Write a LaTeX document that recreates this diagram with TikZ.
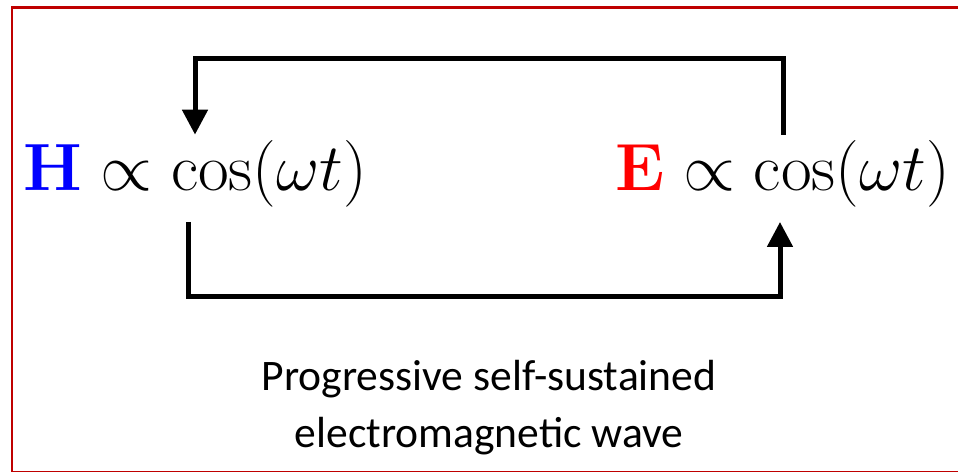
\RequirePackage{fix-cm}
\documentclass[tikz,border=0pt]{standalone}
\usepackage{amsmath}
\usepackage[no-math]{fontspec}
\newfontfamily\notefont{Carlito}
\usetikzlibrary{arrows.meta,positioning,calc}

\begin{document}
\begin{tikzpicture}[x=0.02cm, y=0.02cm,
    eq/.style={inner xsep=0pt, inner ysep=0.14cm, font=\fontsize{38}{42}\selectfont},
    note/.style={align=center, inner sep=0pt, font=\notefont\fontsize{24.8}{32.5}\selectfont},
    arr/.style={-{Triangle[width=0.5cm, length=0.5cm]}, line width=0.1cm},
    frame/.style={draw=red!75!black, line width=0.06cm}
]
\useasboundingbox (0,0) rectangle (958,472);
\clip (0,0) rectangle (958,472);
\draw[frame] (12,-0.8) rectangle (990,464.5);

\node[eq, anchor=base west] (Hf) at (23,281) {$\textcolor{blue}{\mathbf{H}}\propto\cos(\omega t)$};
\node[eq, anchor=base east] (Ef) at (950,281) {$\textcolor{red}{\mathbf{E}}\propto\cos(\omega t)$};
\node[note] (wave) at (489,64) {Progressive self-sustained\\electromagnetic wave};

% E feeds H over the top, H feeds E underneath
\draw[arr] ($(Ef.north east)+(-167,-1)$) -- ++(0,76) -| ($(Hf.north west)+(172,-1)$);
\draw[arr] ($(Hf.south west)+(165,-7)$) -- ++(0,-75) -| ($(Ef.south east)+(-170,-7)$);
\end{tikzpicture}
\end{document}
